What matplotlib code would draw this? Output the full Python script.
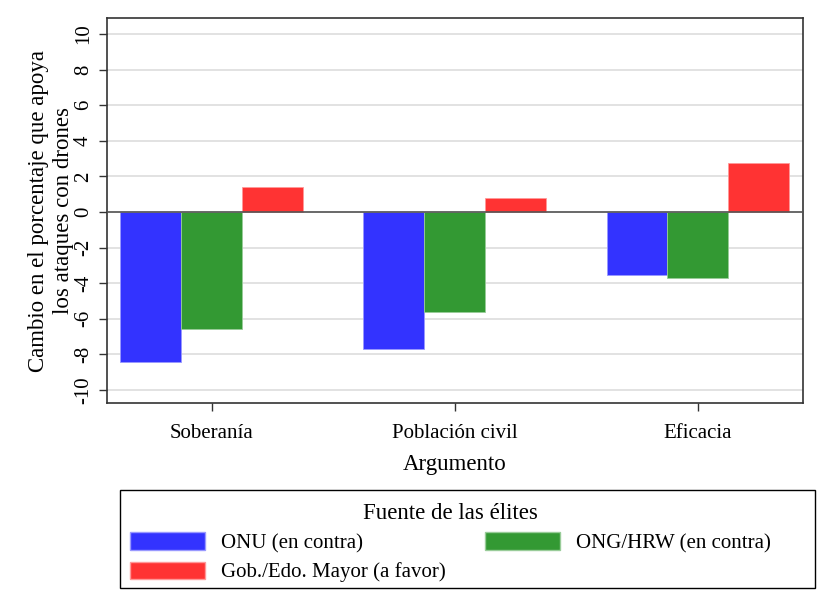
import numpy as np
import matplotlib
matplotlib.use("Agg")
from matplotlib import pyplot as plt
from matplotlib.patches import Patch, Rectangle

# data
categories = ["Soberanía", "Población civil", "Eficacia"]
series_names = ["ONU (en contra)", "ONG/HRW (en contra)", "Gob./Edo. Mayor (a favor)"]
onu = [-8.43, -7.70, -3.54]
ong = [-6.57, -5.62, -3.71]
gob = [1.40, 0.79, 2.75]
y_ticks = [-10, -8, -6, -4, -2, 0, 2, 4, 6, 8, 10]
colors = ["#3333ff", "#339933", "#ff3333"]
edges = ["#9999ff", "#99cc99", "#ff9999"]


def main():
    plt.rcParams["font.family"] = ["Liberation Serif", "DejaVu Serif"]

    fig = plt.figure(figsize=(8.25, 6), dpi=100)
    ax = fig.add_axes([0.1297, 0.3283, 0.8436, 0.6417])

    x = np.arange(1, len(categories) + 1)
    width = 0.251
    for i, values in enumerate([onu, ong, gob]):
        ax.bar(x + (i - 1) * width, values, width, color=colors[i],
               edgecolor=edges[i], linewidth=0.6, zorder=3)

    # light grid and dark zero line
    ax.set_yticks(y_ticks)
    ax.set_yticklabels([str(t) for t in y_ticks], rotation=90, va="center")
    ax.yaxis.grid(True, color="#dddddd", linewidth=1.2, zorder=0)
    ax.axhline(0, color="#555555", linewidth=1.2, zorder=4)
    ax.set_ylim(-10.73, 10.9)
    ax.set_xlim(0.568, 3.432)

    ax.set_xticks(x)
    ax.set_xticklabels(categories)
    ax.tick_params(axis="both", labelsize=15, length=6, width=1, color="#333333")
    ax.tick_params(axis="x", pad=9)
    ax.tick_params(axis="y", pad=4)
    for spine in ax.spines.values():
        spine.set_color("#333333")
        spine.set_linewidth(1.2)

    ax.set_xlabel("Argumento", fontsize=16.5, labelpad=8)
    ax.set_ylabel("Cambio en el porcentaje que apoya\nlos ataques con drones",
                  fontsize=16.5, linespacing=1.25, labelpad=0)

    # legend under the plot, row-major order, frame drawn separately
    handles = [Patch(facecolor=colors[k], edgecolor=edges[k]) for k in range(3)]
    order = [0, 2, 1]
    fig.legend([handles[k] for k in order], [series_names[k] for k in order],
               ncol=2, loc="upper left", bbox_to_anchor=(130 / 825, 1 - 503 / 600),
               title="Fuente de las élites", title_fontsize=16.5, fontsize=15,
               handlelength=3.6, handleheight=0.9, handletextpad=0.75,
               columnspacing=1.9, labelspacing=0.4, borderpad=0,
               frameon=False, borderaxespad=0)
    fig.patches.append(Rectangle((120 / 825, 1 - 588 / 600), 695 / 825, 98 / 600,
                                 transform=fig.transFigure, fill=False,
                                 edgecolor="#000000", linewidth=1.0))

    fig.savefig("out.png", dpi=100)


if __name__ == "__main__":
    main()
